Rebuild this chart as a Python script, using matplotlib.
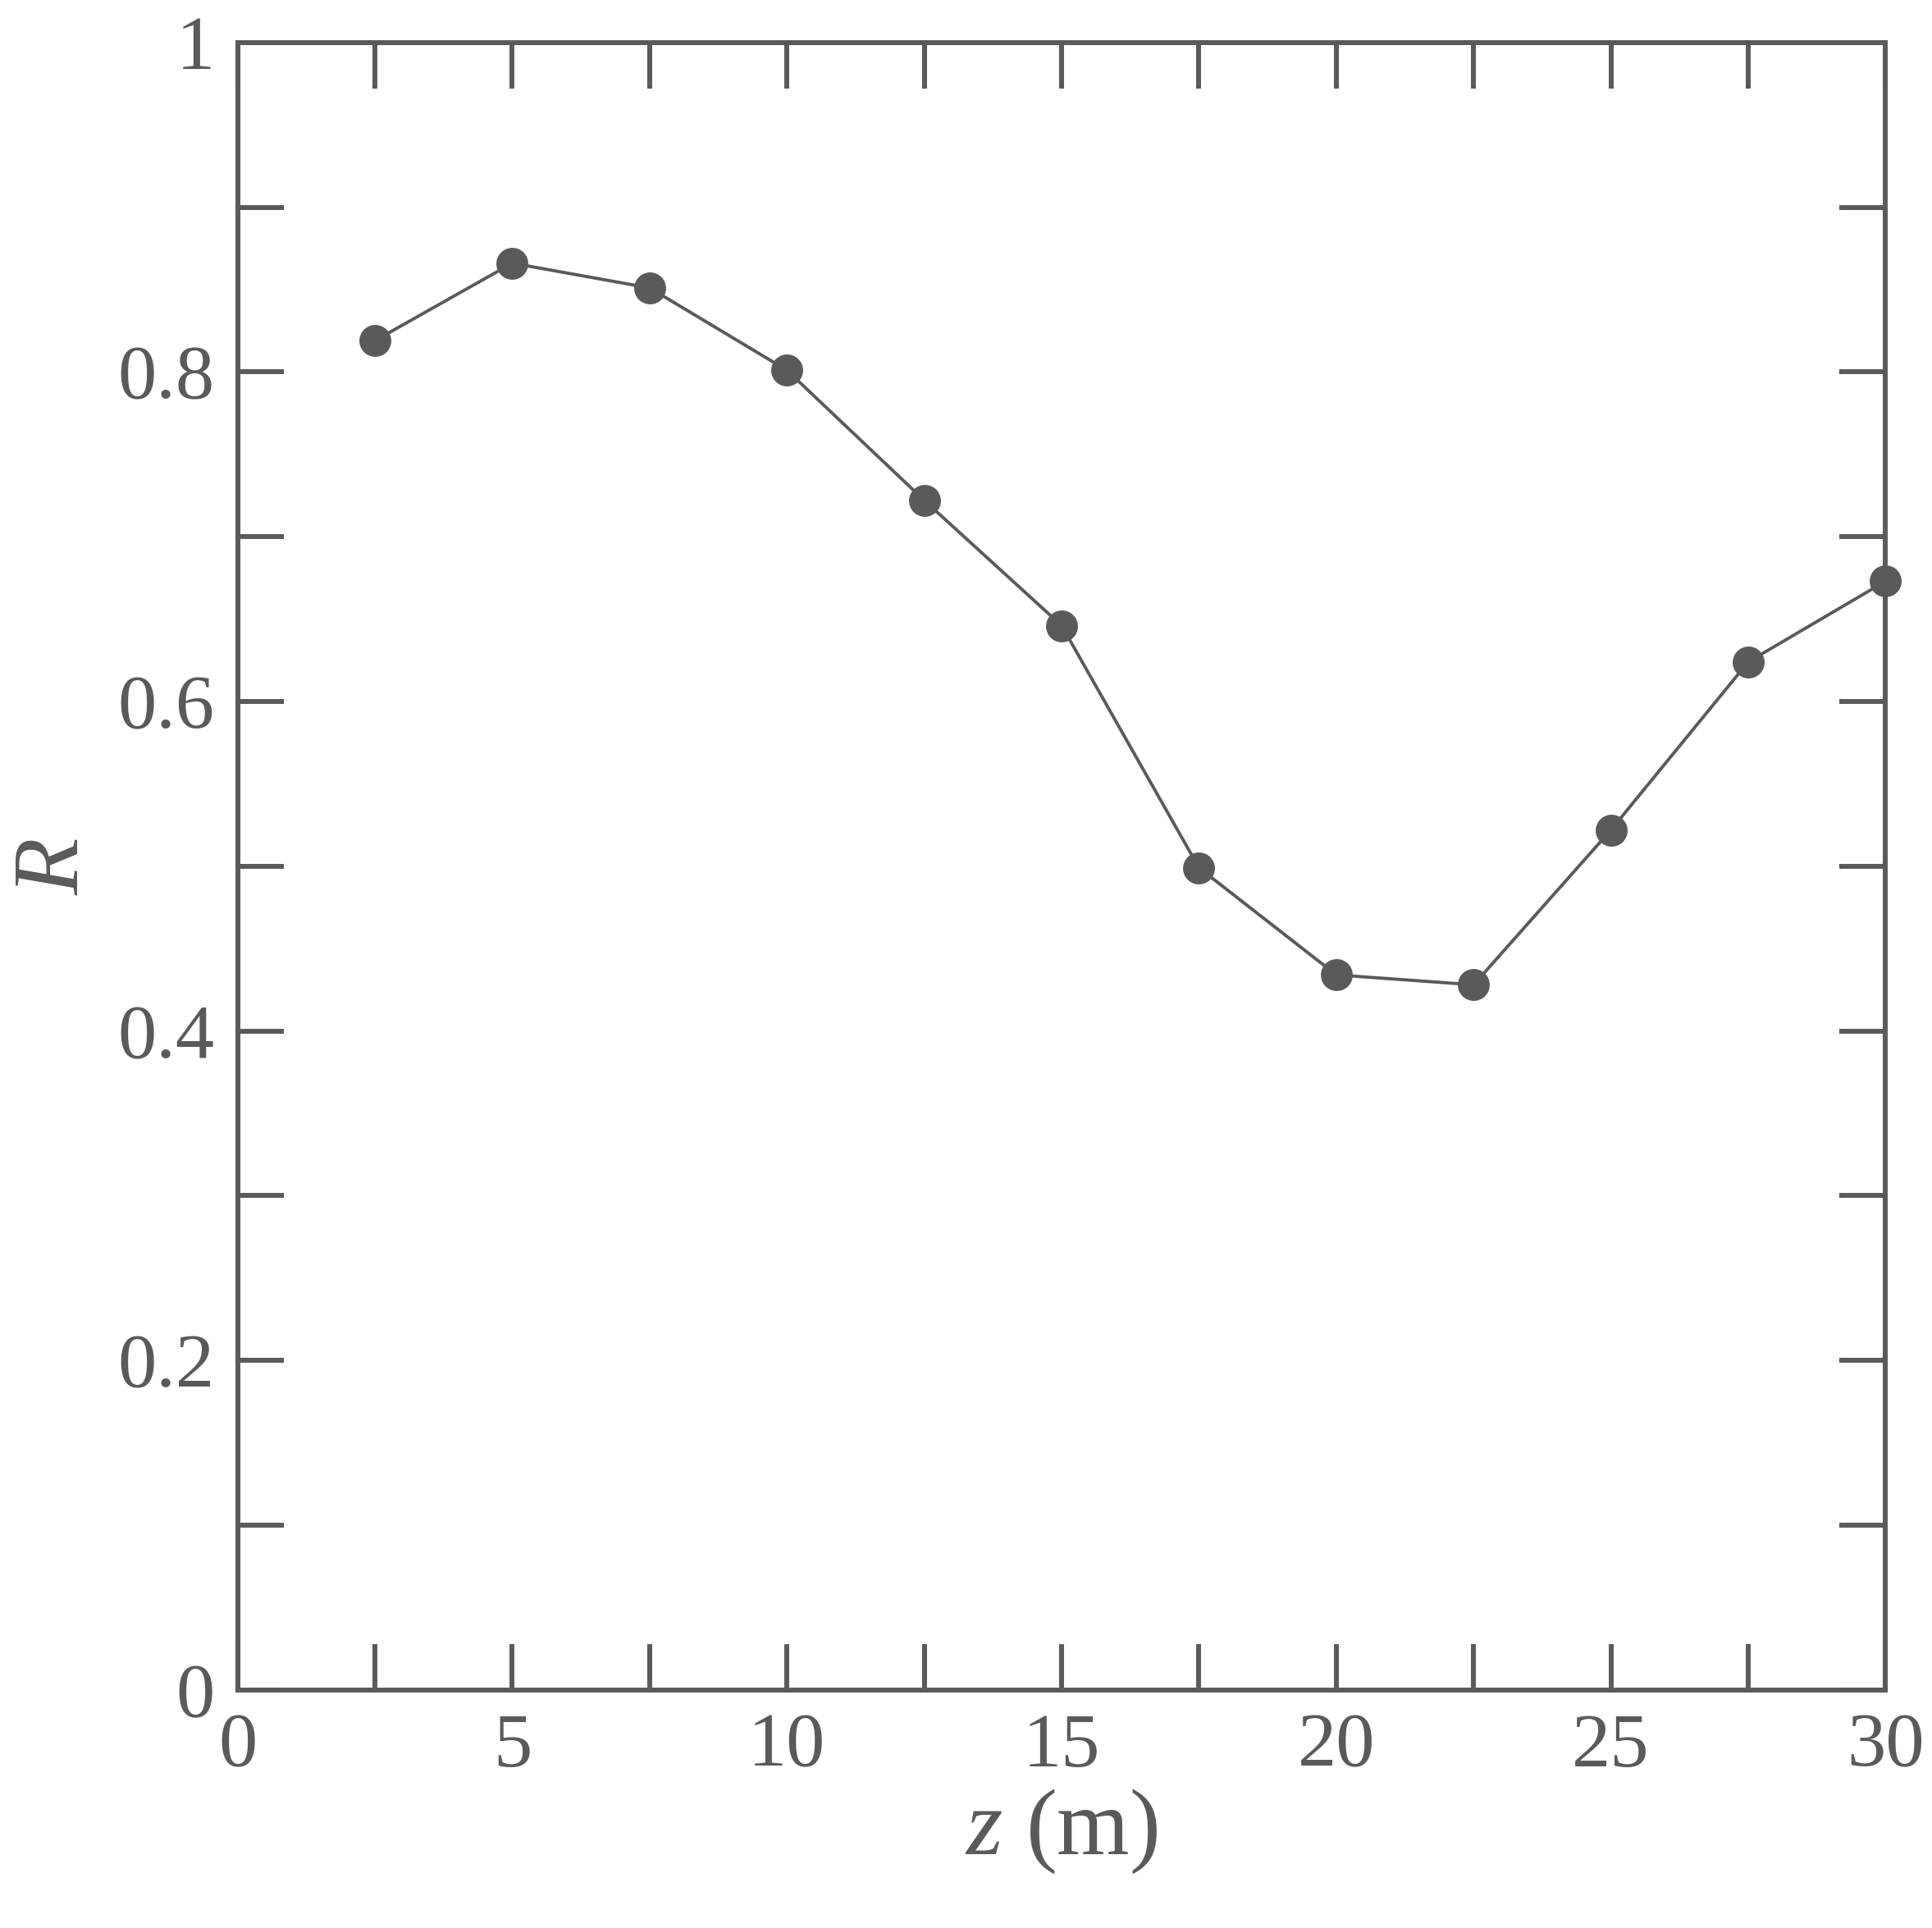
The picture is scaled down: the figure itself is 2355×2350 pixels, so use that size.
import matplotlib
matplotlib.use("Agg")
import matplotlib.pyplot as plt
from matplotlib.ticker import MultipleLocator

z = [2.5, 5, 7.5, 10, 12.5, 15, 17.5, 20, 22.5, 25, 27.5, 30]
R = [0.819, 0.866, 0.851, 0.801, 0.722, 0.646, 0.499, 0.434, 0.428, 0.522, 0.624, 0.673]
xticks = [0, 5, 10, 15, 20, 25, 30]
yticks = [0, 0.2, 0.4, 0.6, 0.8, 1.0]
ylabels = ["0", "0.2", "0.4", "0.6", "0.8", "1"]

grey = "#5a5a5a"
plt.rcParams["font.family"] = "Liberation Serif"
plt.rcParams["mathtext.fontset"] = "custom"
plt.rcParams["mathtext.it"] = "Liberation Serif:italic"
plt.rcParams["mathtext.rm"] = "Liberation Serif"

fig = plt.figure(figsize=(23.55, 23.5), dpi=100)
ax = fig.add_axes([0.123, 0.1235, 0.853, 0.8545])
ax.plot(z, R, color=grey, lw=2.8, marker="o", ms=27, mfc=grey, mec=grey, clip_on=False)

ax.set_xlim(0, 30)
ax.set_ylim(0, 1)
ax.set_xticks(xticks)
ax.set_xticklabels([str(v) for v in xticks])
ax.xaxis.set_minor_locator(MultipleLocator(2.5))
ax.set_yticks(yticks)
ax.set_yticklabels(ylabels)
ax.yaxis.set_minor_locator(MultipleLocator(0.1))

for s in ax.spines.values():
    s.set_color(grey)
    s.set_linewidth(4.3)
ax.tick_params(which="both", direction="in", top=True, right=True,
               length=40, width=4.3, color=grey, labelcolor=grey,
               labelsize=68, pad=20)

ax.set_xlabel("$z$ (m)", fontsize=82, color=grey, labelpad=4)
ax.set_ylabel("$R$", fontsize=82, color=grey, labelpad=18)

fig.savefig("out.png", dpi=100)
